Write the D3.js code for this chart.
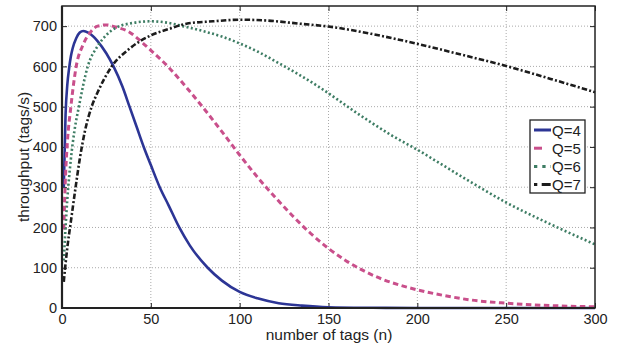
<!DOCTYPE html>
<html>
<head>
<meta charset="utf-8">
<script src="https://cdn.jsdelivr.net/npm/d3@7"></script>
<style>
  body { margin: 0; background: #fff; }
  text { font-family: "Liberation Sans", Arial, Helvetica, sans-serif; fill: #222; }
</style>
</head>
<body>
<svg id="chart" width="625" height="349"></svg>
<script>
// data
var xTicks = [0, 50, 100, 150, 200, 250, 300];
var yTicks = [0, 100, 200, 300, 400, 500, 600, 700];

var nQ4 = [1, 2, 3, 4, 5, 6, 8, 10, 12, 15, 20, 25, 29, 34, 38, 42, 46, 50, 55, 60, 66, 72, 82, 90, 100, 110, 122, 135, 150, 175, 200, 250, 300];
var vQ4 = [300, 480, 555, 595, 625, 645, 670, 684, 688, 683, 663, 632, 600, 550, 500, 450, 400, 355, 300, 255, 200, 155, 100, 68, 40, 24, 12, 6, 2, 0.5, 0, 0, 0];

var nQ5 = [1, 2, 3, 5, 8, 12, 16, 20, 25, 30, 38, 45, 50, 60, 70, 79, 90, 100, 110, 120, 130, 140, 150, 160, 170, 180, 190, 200, 215, 230, 250, 275, 300];
var vQ5 = [195, 330, 410, 500, 600, 655, 685, 700, 703, 698, 685, 660, 640, 598, 548, 500, 438, 380, 325, 275, 228, 185, 148, 117, 92, 72, 57, 45, 31, 20, 12, 6, 3];

var nQ6 = [1, 2, 3, 5, 7, 9.5, 14.5, 20, 25, 30, 40, 50, 60, 68, 80, 90, 100, 110, 122, 134, 145, 155, 165, 175, 185, 200, 215, 230, 250, 275, 300];
var vQ6 = [118, 200, 270, 370, 440, 500, 600, 650, 678, 695, 708, 712, 708, 700, 687, 674, 657, 637, 608, 578, 548, 518, 487, 458, 430, 393, 353, 313, 262, 208, 158];

var nQ7 = [1, 2, 3, 5, 7.5, 10, 12.7, 16.7, 20, 28, 38, 50, 61, 70, 85, 100, 115, 134, 150, 175, 200, 225, 250, 275, 300];
var vQ7 = [65, 110, 150, 215, 295, 370, 435, 500, 535, 600, 644, 677, 694, 706, 712, 716, 714, 706, 699, 680, 656, 629, 601, 569, 536];

var seriesNames = ["Q=4", "Q=5", "Q=6", "Q=7"];
var seriesColors = ["#2c3595", "#c94f8b", "#3e7d64", "#1c1c1c"];
var seriesDash = [null, "5.5,3.5", "2,2.4", "5.5,2.2,2,2.2"];
var legendDash = [null, "8,14", "3.3,5", "3.3,4.4,9,4"];
var seriesWidth = [2.6, 3, 2.6, 2.6];

var svg = d3.select("#chart");
var pL = 62, pR = 595, pT = 6, pB = 308;

var x = d3.scaleLinear().domain([0, 300]).range([pL, pR]);
var y = d3.scaleLinear().domain([0, 750]).range([pB, pT]);

// grid
svg.append("g").selectAll("line")
  .data(xTicks.slice(1, -1))
  .enter().append("line")
  .attr("x1", function (d) { return x(d); })
  .attr("x2", function (d) { return x(d); })
  .attr("y1", pT).attr("y2", pB)
  .attr("stroke", "#aaa").attr("stroke-width", 1)
  .attr("stroke-dasharray", "1,2");
svg.append("g").selectAll("line")
  .data(yTicks.slice(1))
  .enter().append("line")
  .attr("y1", function (d) { return y(d); })
  .attr("y2", function (d) { return y(d); })
  .attr("x1", pL).attr("x2", pR)
  .attr("stroke", "#aaa").attr("stroke-width", 1)
  .attr("stroke-dasharray", "1,2");

// axes, ticks pointing inward
var xAxis = svg.append("g")
  .attr("transform", "translate(0," + pB + ")")
  .call(d3.axisBottom(x).tickValues(xTicks).tickSizeInner(-5).tickSizeOuter(0).tickPadding(6));
var yAxis = svg.append("g")
  .attr("transform", "translate(" + pL + ",0)")
  .call(d3.axisLeft(y).tickValues(yTicks).tickSizeInner(-5).tickSizeOuter(0).tickPadding(5));
svg.append("g")
  .attr("transform", "translate(0," + pT + ")")
  .call(d3.axisTop(x).tickValues(xTicks).tickSizeInner(-5).tickSizeOuter(0).tickFormat(""));
svg.append("g")
  .attr("transform", "translate(" + pR + ",0)")
  .call(d3.axisRight(y).tickValues(yTicks).tickSizeInner(-5).tickSizeOuter(0).tickFormat(""));

svg.selectAll(".domain").remove();
svg.selectAll(".tick line").attr("stroke", "#222").attr("stroke-width", 1);
[xAxis, yAxis].forEach(function (a) {
  a.selectAll("text").style("font-size", "14.5px")
    .style("font-family", "'Liberation Sans', Arial, sans-serif").attr("fill", "#222");
});

// lines
var curves = [[nQ4, vQ4], [nQ5, vQ5], [nQ6, vQ6], [nQ7, vQ7]];
var line = d3.line()
  .x(function (d) { return x(d[0]); })
  .y(function (d) { return y(d[1]); })
  .curve(d3.curveMonotoneX);

curves.forEach(function (c, i) {
  var pts = d3.zip(c[0], c[1]);
  svg.append("path")
    .datum(pts)
    .attr("fill", "none")
    .attr("stroke", seriesColors[i])
    .attr("stroke-width", seriesWidth[i])
    .attr("stroke-dasharray", seriesDash[i])
    .attr("d", line);
});

// frame
svg.append("rect")
  .attr("x", pL).attr("y", pT)
  .attr("width", pR - pL).attr("height", pB - pT)
  .attr("fill", "none").attr("stroke", "#222").attr("stroke-width", 1.5);
svg.append("line").attr("x1", pL).attr("x2", pL).attr("y1", pT).attr("y2", pB + 1)
  .attr("stroke", "#222").attr("stroke-width", 2.2);
svg.append("line").attr("x1", pL - 1).attr("x2", pR).attr("y1", pB).attr("y2", pB)
  .attr("stroke", "#222").attr("stroke-width", 2.2);

// labels
svg.append("text")
  .attr("x", 329).attr("y", 340)
  .attr("text-anchor", "middle")
  .style("font-size", "15.5px")
  .text("number of tags (n)");
svg.append("text")
  .attr("transform", "translate(29," + ((pT + pB) / 2) + ") rotate(-90)")
  .attr("text-anchor", "middle")
  .style("font-size", "15.5px")
  .text("throughput (tags/s)");

// legend
var legend = svg.append("g");
legend.append("rect")
  .attr("x", 530).attr("y", 120).attr("width", 55).attr("height", 73)
  .attr("fill", "#fff").attr("stroke", "#222").attr("stroke-width", 1.3);
seriesNames.forEach(function (name, i) {
  var ly = 130 + i * 18.2;
  legend.append("line")
    .attr("x1", 534).attr("x2", 551).attr("y1", ly).attr("y2", ly)
    .attr("stroke", seriesColors[i])
    .attr("stroke-width", 3)
    .attr("stroke-dasharray", legendDash[i]);
  legend.append("text")
    .attr("x", 552).attr("y", ly + 5.5)
    .style("font-size", "15px")
    .text(name);
});
</script>
</body>
</html>
